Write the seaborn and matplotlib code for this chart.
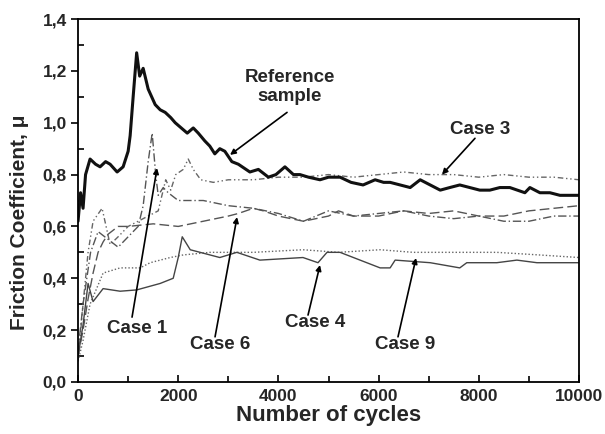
import matplotlib
matplotlib.use("Agg")
import matplotlib.pyplot as plt
import seaborn as sns
import pandas as pd
from matplotlib.ticker import MultipleLocator, FuncFormatter

sns.set_style("white")
plt.rcParams['font.family'] = ['Liberation Sans', 'DejaVu Sans']

# ---- data ----
ref_x = [0, 50, 100, 150, 240, 350, 440, 550, 640, 780, 900, 1000, 1040, 1100, 1170, 1230, 1300, 1350,
         1400, 1470, 1540, 1640, 1740, 1850, 1940, 2060, 2180, 2300, 2400, 2530, 2630, 2730, 2830, 2930,
         3070, 3200, 3430, 3600, 3800, 3950, 4130, 4300, 4430, 4600, 4830, 5000, 5230, 5450, 5690, 5930,
         6100, 6230, 6430, 6630, 6830, 7030, 7230, 7420, 7620, 7820, 8020, 8220, 8420, 8620, 8920, 9020,
         9220, 9420, 9620, 9820, 10000]
ref_y = [0.62, 0.73, 0.67, 0.80, 0.86, 0.84, 0.83, 0.85, 0.84, 0.81, 0.83, 0.89, 0.95, 1.10, 1.27, 1.18, 1.21, 1.17,
         1.13, 1.10, 1.07, 1.05, 1.04, 1.02, 1.00, 0.98, 0.96, 0.98, 0.96, 0.93, 0.91, 0.88, 0.90, 0.89,
         0.85, 0.84, 0.81, 0.82, 0.79, 0.80, 0.83, 0.80, 0.80, 0.79, 0.78, 0.79, 0.79, 0.77, 0.76, 0.78,
         0.77, 0.77, 0.76, 0.75, 0.78, 0.76, 0.74, 0.75, 0.76, 0.75, 0.74, 0.74, 0.75, 0.75, 0.73, 0.75,
         0.73, 0.73, 0.72, 0.72, 0.72]

c1_x = [0, 100, 250, 400, 600, 800, 1000, 1200, 1300, 1400, 1480, 1550, 1600, 1700, 1800, 2000, 2500,
        3000, 3500, 4000, 4500, 5000, 5500, 6000, 6500, 7000, 7500, 8000, 8500, 9000, 9500, 10000]
c1_y = [0.12, 0.30, 0.50, 0.58, 0.55, 0.52, 0.56, 0.60, 0.68, 0.85, 0.96, 0.80, 0.72, 0.75, 0.73, 0.70, 0.70,
        0.68, 0.67, 0.65, 0.62, 0.66, 0.64, 0.65, 0.66, 0.64, 0.63, 0.64, 0.62, 0.62, 0.64, 0.64]

c3_x = [0, 100, 200, 300, 480, 560, 640, 800, 1000, 1200, 1400, 1600, 1750, 1850, 1950, 2100, 2200, 2300,
        2450, 2700, 3000, 3500, 4000, 4500, 5000, 5500, 6000, 6500, 7000, 7500, 8000, 8500, 9000, 9500, 10000]
c3_y = [0.08, 0.30, 0.50, 0.62, 0.67, 0.60, 0.53, 0.56, 0.60, 0.62, 0.64, 0.66, 0.78, 0.74, 0.80, 0.82, 0.86, 0.82,
        0.78, 0.77, 0.78, 0.78, 0.79, 0.79, 0.80, 0.79, 0.80, 0.81, 0.80, 0.80, 0.79, 0.80, 0.79, 0.79, 0.78]

c6_x = [0, 100, 200, 300, 400, 500, 600, 800, 1000, 1500, 2000, 2500, 3000, 3200, 3500, 3700, 4000, 4500,
        5000, 5200, 5500, 6000, 6500, 7000, 7500, 8000, 8500, 9000, 9500, 10000]
c6_y = [0.10, 0.20, 0.32, 0.42, 0.50, 0.54, 0.57, 0.60, 0.60, 0.61, 0.60, 0.62, 0.64, 0.65, 0.67, 0.66, 0.64, 0.62,
        0.64, 0.66, 0.64, 0.64, 0.66, 0.65, 0.66, 0.64, 0.64, 0.66, 0.67, 0.68]

c4_x = [0, 100, 200, 300, 500, 840, 1170, 1640, 1900, 2000, 2080, 2240, 2830, 3170, 3630, 4490, 4790,
        4970, 5230, 6030, 6230, 6330, 7030, 7620, 7760, 8360, 8760, 9160, 10000]
c4_y = [0.10, 0.22, 0.38, 0.31, 0.36, 0.35, 0.355, 0.38, 0.40, 0.48, 0.56, 0.51, 0.48, 0.50, 0.47, 0.48, 0.46,
        0.50, 0.50, 0.44, 0.44, 0.47, 0.46, 0.44, 0.46, 0.46, 0.47, 0.46, 0.46]

c9_x = [0, 100, 240, 500, 840, 1240, 1440, 1840, 2100, 2630, 3500, 4490, 5200, 6030, 6690, 7500, 8360, 9200, 10000]
c9_y = [0.08, 0.16, 0.30, 0.42, 0.44, 0.44, 0.46, 0.48, 0.49, 0.50, 0.50, 0.51, 0.50, 0.51, 0.50, 0.50, 0.50, 0.49, 0.48]

x_ticks = [0, 2000, 4000, 6000, 8000, 10000]
y_ticks = [0.0, 0.2, 0.4, 0.6, 0.8, 1.0, 1.2, 1.4]

fig = plt.figure(figsize=(6.05, 4.34), dpi=100)
ax = fig.add_axes([0.129, 0.12, 0.828, 0.836])

series = [
    (c3_x, c3_y, (0, (4, 2, 1, 2, 1, 2)), 1.0, '#666666'),
    (c1_x, c1_y, (0, (6, 2, 1, 2)), 1.0, '#555555'),
    (c6_x, c6_y, (0, (7, 3)), 1.0, '#555555'),
    (c9_x, c9_y, (0, (1, 1.5)), 1.0, '#666666'),
    (c4_x, c4_y, '-', 1.0, '#444444'),
    (ref_x, ref_y, '-', 2.2, '#111111'),
]
for xs, ys, ls, lw, col in series:
    df = pd.DataFrame({'x': xs, 'y': ys})
    sns.lineplot(data=df, x='x', y='y', ax=ax, color=col, linewidth=lw, linestyle=ls,
                 estimator=None, sort=False)

ax.set_xlim(0, 10000)
ax.set_ylim(0, 1.4)
ax.set_xticks(x_ticks)
ax.set_yticks(y_ticks)
ax.xaxis.set_minor_locator(MultipleLocator(1000))
ax.yaxis.set_minor_locator(MultipleLocator(0.1))
ax.yaxis.set_major_formatter(FuncFormatter(lambda v, p: f"{v:.1f}".replace('.', ',')))
ax.tick_params(bottom=True, left=True, top=False, right=False, which='both', color='black')
ax.tick_params(axis='x', which='major', direction='in', length=5, width=1.2, labelsize=12.5, pad=5)
ax.tick_params(axis='x', which='minor', direction='in', length=4, width=1.2)
ax.tick_params(axis='y', which='major', direction='out', length=5, width=1.2, labelsize=12.5, pad=3)
ax.tick_params(axis='y', which='minor', direction='in', length=4, width=1.2)
for lab in ax.get_xticklabels() + ax.get_yticklabels():
    lab.set_fontweight('bold')
for s in ax.spines.values():
    s.set_color('black')
    s.set_linewidth(1.3)

ax.set_xlabel("Number of cycles", fontsize=16, fontweight='bold', labelpad=1)
ax.set_ylabel("Friction Coefficient, μ", fontsize=15, fontweight='bold')
ax.yaxis.set_label_coords(-0.097, 0.44)

ap = dict(arrowstyle='-|>', color='black', lw=1.2, mutation_scale=8, shrinkA=0, shrinkB=0)
tk = dict(fontsize=13.5, fontweight='bold', ha='center', va='center')
ax.annotate("", xy=(3034, 0.876), xytext=(4172, 1.04), arrowprops=ap)
ax.text(4232, 1.138, "Reference\nsample", linespacing=1.15, **tk)
ax.annotate("", xy=(7265, 0.80), xytext=(7924, 0.94), arrowprops=ap)
ax.text(8024, 0.975, "Case 3", **tk)
ax.annotate("", xy=(1577, 0.825), xytext=(1078, 0.25), arrowprops=ap)
ax.text(1178, 0.208, "Case 1", **tk)
ax.annotate("", xy=(3174, 0.636), xytext=(2735, 0.174), arrowprops=ap)
ax.text(2834, 0.143, "Case 6", **tk)
ax.annotate("", xy=(4830, 0.451), xytext=(4591, 0.258), arrowprops=ap)
ax.text(4731, 0.228, "Case 4", **tk)
ax.annotate("", xy=(6747, 0.478), xytext=(6387, 0.174), arrowprops=ap)
ax.text(6527, 0.143, "Case 9", **tk)

fig.savefig("out.png", dpi=100)
